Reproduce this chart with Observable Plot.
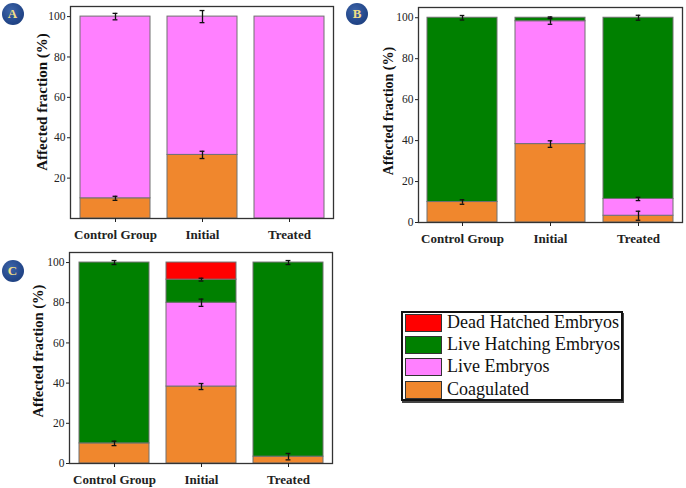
<!DOCTYPE html>
<html>
<head>
<meta charset="utf-8">
<script src="https://cdn.jsdelivr.net/npm/d3@7"></script>
<script src="https://cdn.jsdelivr.net/npm/@observablehq/plot@0.6"></script>
<style>
  html, body { margin: 0; padding: 0; background: #fff; }
  #root { position: relative; width: 686px; height: 488px; overflow: hidden; background: #fff; font-family: "Liberation Serif", "Times New Roman", Times, "DejaVu Serif", serif; }
  .panel { position: absolute; }
  .panel svg, .panel svg text { font-family: "Liberation Serif", "Times New Roman", Times, "DejaVu Serif", serif !important; }
  .badge { position: absolute; width: 22px; height: 22px; border-radius: 50%;
    background: radial-gradient(circle at 40% 35%, #3d64a8 0%, #23478a 60%, #1b3a75 100%);
    color: #f1df86; font-weight: bold; font-size: 13px; font-family: "Liberation Serif", "Times New Roman", Times, serif; text-align: center; line-height: 22px; }
  #legend { position: absolute; left: 401px; top: 311px; width: 218px; height: 86px;
    border: 2px solid #111; box-shadow: 1px 2px 0 #444; background: #fff; }
  .item { position: absolute; left: 2px; height: 18px; }
  .sw { position: absolute; left: 0; top: 0; width: 35px; height: 16px; border: 1px solid #333; }
  .lab { position: absolute; left: 42px; top: -3px; font-size: 18px; white-space: nowrap; color: #111; line-height: 22px; }
</style>
</head>
<body>
<div id="root"></div>
<script>
// ---- data ----
const groups = ["Control Group", "Initial", "Treated"];
const categories = ["Coagulated", "Live Embryos", "Live Hatching Embryos", "Dead Hatched Embryos"];
const colors = ["#f0872d", "#ff80ff", "#008000", "#ff0000"];
const legendOrder = ["Dead Hatched Embryos", "Live Hatching Embryos", "Live Embryos", "Coagulated"];
const legendText = ["Dead Hatched Embryos", "Live Hatching Embryos", "Live Embryos", "Coagulated"];

// Panel A (values per group, per category)
const A_coagulated = [10, 31.5, 0];
const A_live = [90, 68.5, 100];
const A_hatching = [0, 0, 0];
const A_dead = [0, 0, 0];
const A_err_coagulated = [1, 1.8, null];
const A_err_live = [1.6, 3, null];
const A_err_hatching = [null, null, null];
const A_err_dead = [null, null, null];

// Panel B
const B_coagulated = [10, 38.3, 3.3];
const B_live = [0, 60, 8.2];
const B_hatching = [90, 1.7, 88.5];
const B_dead = [0, 0, 0];
const B_err_coagulated = [1.1, 1.6, 2.2];
const B_err_live = [null, 1.5, 0.8];
const B_err_hatching = [1.1, 0.4, 1.2];
const B_err_dead = [null, null, null];

// Panel C
const C_coagulated = [10, 38.3, 3.4];
const C_live = [0, 41.7, 0];
const C_hatching = [90, 11.5, 96.6];
const C_dead = [0, 8.5, 0];
const C_err_coagulated = [1.1, 1.5, 1.6];
const C_err_live = [null, 1.8, null];
const C_err_hatching = [1, 0.7, 1];
const C_err_dead = [null, null, null];

const yTicksA = [20, 40, 60, 80, 100];
const yTicksBC = [0, 20, 40, 60, 80, 100];
const yLabel = "Affected fraction (%)";
const FONT = '"Liberation Serif", "Times New Roman", Times, "DejaVu Serif", serif';

function tidy(vals, errs) {
  const rows = [], ebars = [];
  groups.forEach((g, gi) => {
    let cum = 0;
    categories.forEach((c, ci) => {
      const v = vals[ci][gi];
      if (v > 0) {
        rows.push({group: g, category: c, value: v});
        cum += v;
        const e = errs[ci][gi];
        if (e != null) ebars.push({group: g, top: cum, err: e});
      }
    });
  });
  return {rows, ebars};
}

function panel(cfg) {
  const {left, top, width, height, ml, mr, mt, mb, ticks, vals, errs, labelX, labelY, labelSize, letter, bx, by} = cfg;
  const {rows, ebars} = tidy(vals, errs);
  const inner = width - ml - mr;
  const bw = inner / 3 * 0.8;
  const capInset = (bw - 5) / 2;
  const chart = Plot.plot({
    width, height,
    marginLeft: ml, marginRight: mr, marginTop: mt, marginBottom: mb,
    style: {fontFamily: FONT, fontSize: "11.5px", color: "#222", background: "transparent"},
    x: {domain: groups, paddingInner: 0.2, paddingOuter: 0.1, label: null},
    y: {domain: [0, 105], label: null},
    color: {domain: categories, range: colors},
    marks: [
      Plot.barY(rows, {x: "group", y: "value", fill: "category", stroke: "#707070", strokeWidth: 1}),
      Plot.ruleX(ebars, {x: "group", y1: d => d.top - d.err, y2: d => d.top + d.err, stroke: "#111", strokeWidth: 1.3}),
      Plot.tickY(ebars, {x: "group", y: d => d.top - d.err, stroke: "#111", strokeWidth: 1.3, insetLeft: capInset, insetRight: capInset}),
      Plot.tickY(ebars, {x: "group", y: d => d.top + d.err, stroke: "#111", strokeWidth: 1.3, insetLeft: capInset, insetRight: capInset}),
      Plot.frame({stroke: "#333", strokeWidth: 1.3}),
      Plot.axisY({ticks, tickSize: 3, tickPadding: 2, label: null, fontSize: 11.5}),
      Plot.axisX({tickSize: 4, tickPadding: 7, label: null, fontSize: 13, fontWeight: "bold"})
    ]
  });
  d3.select(chart).append("text")
    .attr("transform", `translate(${labelX},${labelY}) rotate(-90)`)
    .attr("text-anchor", "middle")
    .attr("font-weight", "bold")
    .attr("font-size", labelSize)
    .attr("fill", "#111")
    .text(yLabel);
  const wrap = document.createElement("div");
  wrap.className = "panel";
  wrap.style.left = left + "px";
  wrap.style.top = top + "px";
  wrap.appendChild(chart);
  document.getElementById("root").appendChild(wrap);
  const b = document.createElement("div");
  b.className = "badge";
  b.textContent = letter;
  b.style.left = (left + bx - 11) + "px";
  b.style.top = (top + by - 11) + "px";
  document.getElementById("root").appendChild(b);
}

panel({left: 0, top: 0, width: 343, height: 250, ml: 70, mr: 10, mt: 6, mb: 32, ticks: yTicksA,
  vals: [A_coagulated, A_live, A_hatching, A_dead], errs: [A_err_coagulated, A_err_live, A_err_hatching, A_err_dead],
  labelX: 47, labelY: 102, labelSize: 15, letter: "A", bx: 12.5, by: 14});
panel({left: 343, top: 0, width: 343, height: 250, ml: 75, mr: 4, mt: 7, mb: 28, ticks: yTicksBC,
  vals: [B_coagulated, B_live, B_hatching, B_dead], errs: [B_err_coagulated, B_err_live, B_err_hatching, B_err_dead],
  labelX: 50, labelY: 111, labelSize: 14, letter: "B", bx: 14, by: 13.5});
panel({left: 0, top: 250, width: 343, height: 238, ml: 69, mr: 11, mt: 2, mb: 25, ticks: yTicksBC,
  vals: [C_coagulated, C_live, C_hatching, C_dead], errs: [C_err_coagulated, C_err_live, C_err_hatching, C_err_dead],
  labelX: 43, labelY: 101, labelSize: 14.5, letter: "C", bx: 12.5, by: 20.5});

// legend
const lg = document.createElement("div");
lg.id = "legend";
legendOrder.forEach((c, i) => {
  const it = document.createElement("div");
  it.className = "item";
  it.style.top = (1 + i * 22.2) + "px";
  const sw = document.createElement("div");
  sw.className = "sw";
  sw.style.background = colors[categories.indexOf(c)];
  const lab = document.createElement("div");
  lab.className = "lab";
  lab.textContent = legendText[i];
  it.appendChild(sw); it.appendChild(lab);
  lg.appendChild(it);
});
document.getElementById("root").appendChild(lg);
</script>
</body>
</html>
